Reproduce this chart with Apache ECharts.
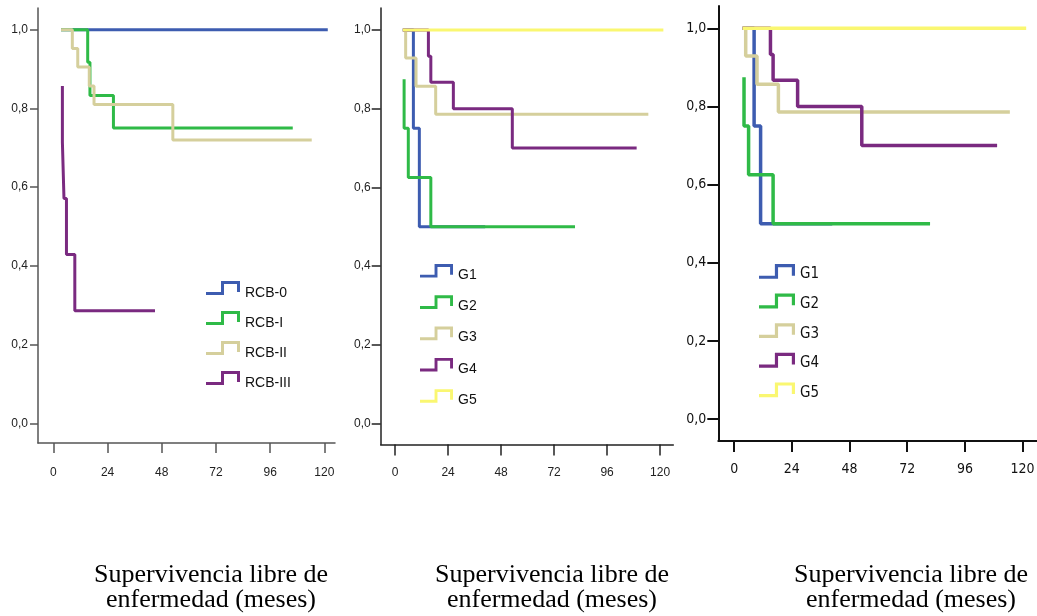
<!DOCTYPE html>
<html>
<head>
<meta charset="utf-8">
<script src="https://cdn.jsdelivr.net/npm/echarts@6/dist/echarts.min.js"></script>
<style>
  html, body { margin: 0; padding: 0; background: #fff; }
  #wrap { position: relative; width: 1037px; height: 616px; overflow: hidden; }
  .panel { position: absolute; top: 0; height: 616px; }
  #p1 { left: 0; width: 345px; }
  #p2 { left: 345px; width: 331px; }
  #p3 { left: 676px; width: 361px; filter: blur(0.5px); }
</style>
</head>
<body>
<div id="wrap">
  <div id="p1" class="panel"></div>
  <div id="p2" class="panel"></div>
  <div id="p3" class="panel"></div>
</div>
<script>
// Kaplan-Meier steps: time (months) where the level changes, and survival after it
const rcbNames = ['RCB-0', 'RCB-I', 'RCB-II', 'RCB-III'];
const rcb0Time = [3.4, 121.5];
const rcb0Surv = [1, 1];
const rcb1Time = [3.4, 15.2, 16.2, 26.6, 106];
const rcb1Surv = [1, 0.917, 0.833, 0.75, 0.75];
const rcb2Time = [3.4, 8.4, 10.8, 15.9, 18.0, 52.9, 114.4];
const rcb2Surv = [1, 0.952, 0.905, 0.857, 0.810, 0.720, 0.720];
const rcb3Time = [4.0, 4.0, 4.7, 5.8, 9.5, 45.0];
const rcb3Surv = [0.857, 0.714, 0.571, 0.429, 0.286, 0.286];

const gNames = ['G1', 'G2', 'G3', 'G4', 'G5'];
const g1Time = [3.5, 8.3, 11.0, 40.8];
const g1Surv = [1, 0.75, 0.5, 0.5];
const g2Time = [4.1, 4.1, 6.0, 16.2, 81.5];
const g2Surv = [0.875, 0.75, 0.625, 0.5, 0.5];
const g3Time = [3.5, 4.8, 9.5, 18.4, 114.7];
const g3Surv = [1, 0.929, 0.857, 0.786, 0.786];
const g4Time = [3.5, 15.1, 16.2, 26.4, 53.1, 109.4];
const g4Surv = [1, 0.933, 0.867, 0.8, 0.7, 0.7];
const g5Time = [3.5, 121.5];
const g5Surv = [1, 1];

const xTicks = [0, 24, 48, 72, 96, 120];
const yTicks = [0, 0.2, 0.4, 0.6, 0.8, 1.0];
const xLabel = 'Supervivencia libre de\nenfermedad (meses)';

const colors = {
  blue: '#3d5cb0',
  green: '#2fba47',
  beige: '#d5cf9c',
  purple: '#7a2a80',
  yellow: '#faf771'
};

// step glyph used for the legend icons
const stepIcon = 'path://M0,11L15,11L15,0L34,0L34,11L31,11L31,3L18,3L18,14L0,14Z';

function pairs(t, s) { return t.map((x, i) => [x, s[i]]); }

function kmSeries(name, t, s, color, width) {
  return {
    name: name,
    type: 'line',
    step: 'end',
    data: pairs(t, s),
    symbol: 'none',
    color: color,
    lineStyle: { color: color, width: width },
    itemStyle: { color: color },
    z: 2
  };
}

function buildOption(cfg) {
  return {
    animation: false,
    grid: { left: cfg.grid[0], top: cfg.grid[1], width: cfg.grid[2], height: cfg.grid[3],
            outerBoundsMode: 'none', containLabel: false },
    xAxis: {
      type: 'value',
      min: cfg.xRange[0], max: cfg.xRange[1],
      axisLine: { show: true, onZero: false, lineStyle: { color: cfg.axisColor, width: cfg.axisWidth } },
      axisTick: { show: true, inside: false, length: cfg.xTickLen, customValues: xTicks,
                  lineStyle: { color: cfg.axisColor, width: cfg.axisWidth } },
      axisLabel: { customValues: xTicks, margin: cfg.xLabelMargin, color: cfg.textColor,
                   fontFamily: cfg.font, fontSize: cfg.tickFont },
      splitLine: { show: false }
    },
    yAxis: {
      type: 'value',
      min: cfg.yRange[0], max: cfg.yRange[1],
      axisLine: { show: true, onZero: false, lineStyle: { color: cfg.axisColor, width: cfg.axisWidth } },
      axisTick: { show: true, inside: false, length: cfg.yTickLen, customValues: yTicks,
                  lineStyle: { color: cfg.axisColor, width: cfg.axisWidth } },
      axisLabel: { customValues: yTicks, margin: cfg.yLabelMargin, color: cfg.textColor,
                   fontFamily: cfg.font, fontSize: cfg.tickFont,
                   formatter: v => v.toFixed(1).replace('.', ',') },
      splitLine: { show: false }
    },
    legend: {
      orient: 'vertical',
      left: cfg.legend[0], top: cfg.legend[1],
      padding: 0,
      itemGap: cfg.legendGap,
      itemWidth: cfg.iconSize[0], itemHeight: cfg.iconSize[1],
      icon: stepIcon,
      selectedMode: false,
      itemStyle: { borderWidth: 0 },
      formatter: '{t|{name}}',
      textStyle: {
        fontFamily: cfg.font, fontSize: cfg.legendFont, color: '#111',
        rich: { t: { fontFamily: cfg.font, fontSize: cfg.legendFont, color: '#111',
                     padding: [cfg.legendTextDrop, 0, 0, 0] } }
      },
      data: cfg.names
    },
    graphic: [{
      type: 'text',
      x: cfg.caption[0], y: cfg.caption[1],
      style: {
        text: xLabel,
        align: 'center', verticalAlign: 'top',
        fontFamily: '"Liberation Serif", "Times New Roman", serif',
        fontSize: 26, lineHeight: 25, fill: '#000'
      }
    }],
    series: cfg.series
  };
}

const sans = '"Liberation Sans", Arial, sans-serif';
const narrow = '"Liberation Sans Narrow", "DejaVu Sans Condensed", "Liberation Sans", sans-serif';

const panel1 = buildOption({
  grid: [38, 8, 297, 435],
  xRange: [-6.8, 124.7], yRange: [-0.05, 1.055],
  axisColor: '#555', axisWidth: 1.5, textColor: '#222', font: sans,
  tickFont: 12, xTickLen: 10, yTickLen: 8, xLabelMargin: 24, yLabelMargin: 10,
  legend: [206, 281], legendGap: 11, iconSize: [34, 14], legendFont: 14, legendTextDrop: 10,
  names: rcbNames,
  caption: [211, 563],
  series: [
    kmSeries(rcbNames[0], rcb0Time, rcb0Surv, colors.blue, 3),
    kmSeries(rcbNames[1], rcb1Time, rcb1Surv, colors.green, 3),
    kmSeries(rcbNames[2], rcb2Time, rcb2Surv, colors.beige, 3),
    kmSeries(rcbNames[3], rcb3Time, rcb3Surv, colors.purple, 3)
  ]
});

const panel2 = buildOption({
  grid: [35.7, 8, 292.6, 436.5],
  xRange: [-6.5, 126], yRange: [-0.054, 1.056],
  axisColor: '#222', axisWidth: 1.5, textColor: '#222', font: sans,
  tickFont: 12, xTickLen: 11, yTickLen: 9, xLabelMargin: 22, yLabelMargin: 10,
  legend: [75, 264], legendGap: 13.5, iconSize: [33, 14], legendFont: 14, legendTextDrop: 8,
  names: gNames,
  caption: [207, 563],
  series: [
    kmSeries(gNames[0], g1Time, g1Surv, colors.blue, 3),
    kmSeries(gNames[1], g2Time, g2Surv, colors.green, 3),
    kmSeries(gNames[2], g3Time, g3Surv, colors.beige, 3),
    kmSeries(gNames[3], g4Time, g4Surv, colors.purple, 3),
    kmSeries(gNames[4], g5Time, g5Surv, colors.yellow, 3)
  ]
});

const panel3 = buildOption({
  grid: [42.3, 6, 330, 435],
  xRange: [-6.6, 130.7], yRange: [-0.056, 1.057],
  axisColor: '#111', axisWidth: 2, textColor: '#111', font: narrow,
  tickFont: 14, xTickLen: 11, yTickLen: 11, xLabelMargin: 21, yLabelMargin: 12,
  legend: [83, 264], legendGap: 11.7, iconSize: [36, 16], legendFont: 15, legendTextDrop: 6,
  names: gNames,
  caption: [235, 563],
  series: [
    kmSeries(gNames[0], g1Time, g1Surv, colors.blue, 3.5),
    kmSeries(gNames[1], g2Time, g2Surv, colors.green, 3.5),
    kmSeries(gNames[2], g3Time, g3Surv, colors.beige, 3.5),
    kmSeries(gNames[3], g4Time, g4Surv, colors.purple, 3.5),
    kmSeries(gNames[4], g5Time, g5Surv, colors.yellow, 3.5)
  ]
});

echarts.init(document.getElementById('p1'), null, { renderer: 'canvas' }).setOption(panel1);
echarts.init(document.getElementById('p2'), null, { renderer: 'canvas' }).setOption(panel2);
echarts.init(document.getElementById('p3'), null, { renderer: 'canvas' }).setOption(panel3);
</script>
</body>
</html>
